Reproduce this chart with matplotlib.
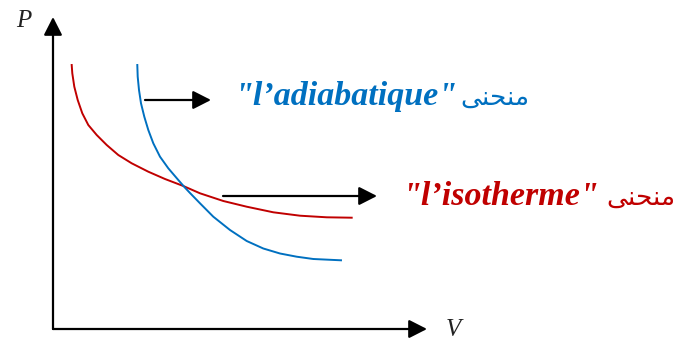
import matplotlib
matplotlib.use("Agg")
import matplotlib.pyplot as plt

iso_V = [18.7, 19.3, 21.3, 24.7, 29.3, 35.3, 43.7, 53.7, 65.3, 78.7,
         95.3, 112.0, 130.3, 147.0, 170.3, 193.7, 220.3, 247.0, 273.7, 298.7]
iso_P = [264.0, 255.7, 242.3, 229.0, 215.7, 204.0, 194.0, 184.0, 174.0, 165.7,
         157.3, 150.0, 143.0, 135.7, 128.0, 122.3, 116.7, 113.3, 111.7, 111.3]

adia_V = [84.3, 84.7, 86.0, 88.0, 91.3, 95.3, 100.3, 107.0, 115.3, 125.3,
          132.0, 137.0, 147.0, 160.3, 177.0, 193.7, 210.3, 227.0, 243.7,
          260.3, 288.0]
adia_P = [264.0, 252.3, 239.0, 225.7, 212.3, 199.0, 185.7, 172.3, 160.7, 149.0,
          141.3, 136.0, 125.7, 112.3, 99.0, 88.0, 80.5, 75.5, 72.3,
          70.0, 68.7]

label_adia = "\"l\u2019adiabatique\""
label_iso = "\"l\u2019isotherme\""
# "منحنى" en formes de présentation (ordre visuel gauche -> droite)
mot_courbe = "\uFEF0\uFEE8\uFEA4\uFEE8\uFEE3"

BLEU = "#0070C0"
ROUGE = "#C00000"

fig = plt.figure(figsize=(6.8, 3.45), dpi=100)
ax = fig.add_axes([0, 0, 1, 1])
ax.set_xlim(-53, 627)
ax.set_ylim(-16, 329)
ax.axis("off")

fleche = dict(arrowstyle="-|>,head_length=0.55,head_width=0.28",
              color="black", lw=1.6, mutation_scale=20, shrinkA=0, shrinkB=0)

# axes P et V
ax.annotate("", xy=(374, 0), xytext=(0, 0), arrowprops=fleche)
ax.annotate("", xy=(0, 312), xytext=(0, 0), arrowprops=fleche)
ax.text(-29, 308, "P", fontsize=18, family="Liberation Serif", style="italic",
        ha="center", va="center", color="#222222")
ax.text(400, -1, "V", fontsize=18, family="Liberation Serif", style="italic",
        ha="center", va="center", color="#222222")

# courbes
ax.plot(iso_V, iso_P, color=ROUGE, lw=1.4, solid_joinstyle="round")
ax.plot(adia_V, adia_P, color=BLEU, lw=1.4, solid_joinstyle="round")

# flèches vers les étiquettes
ax.annotate("", xy=(158, 229), xytext=(92, 229), arrowprops=fleche)
ax.annotate("", xy=(324, 133), xytext=(170, 133), arrowprops=fleche)

# étiquettes
ax.text(182, 224, label_adia, fontsize=24.5, family="Liberation Serif",
        style="italic", weight="bold", color=BLEU, ha="left", va="baseline")
ax.text(477, 224, mot_courbe, fontsize=19, family="DejaVu Sans",
        color=BLEU, ha="right", va="baseline")
ax.text(350, 124, label_iso, fontsize=24.5, family="Liberation Serif",
        style="italic", weight="bold", color=ROUGE, ha="left", va="baseline")
ax.text(622, 124, mot_courbe, fontsize=19, family="DejaVu Sans",
        color=ROUGE, ha="right", va="baseline")

fig.savefig("out.png", dpi=100)
